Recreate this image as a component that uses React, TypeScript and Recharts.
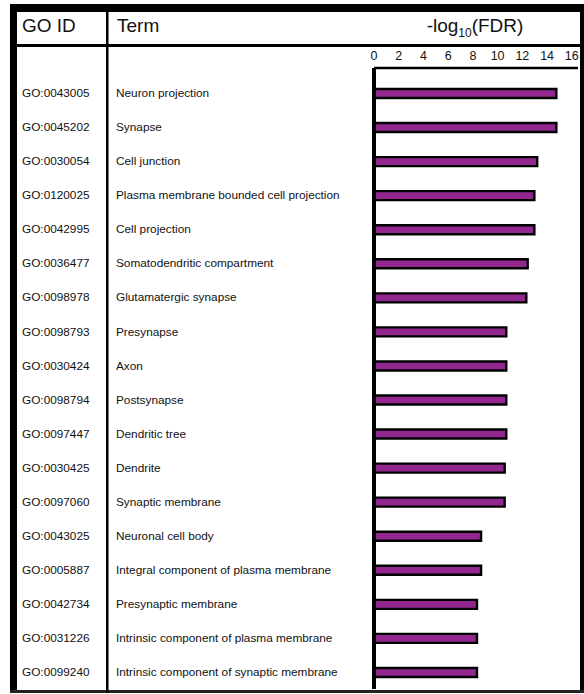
import React from 'react';
import { BarChart, Bar, XAxis, YAxis } from 'recharts';

const goIds = [
  'GO:0043005', 'GO:0045202', 'GO:0030054', 'GO:0120025', 'GO:0042995', 'GO:0036477',
  'GO:0098978', 'GO:0098793', 'GO:0030424', 'GO:0098794', 'GO:0097447', 'GO:0030425',
  'GO:0097060', 'GO:0043025', 'GO:0005887', 'GO:0042734', 'GO:0031226', 'GO:0099240',
];

const terms = [
  'Neuron projection', 'Synapse', 'Cell junction', 'Plasma membrane bounded cell projection',
  'Cell projection', 'Somatodendritic compartment', 'Glutamatergic synapse', 'Presynapse',
  'Axon', 'Postsynapse', 'Dendritic tree', 'Dendrite', 'Synaptic membrane',
  'Neuronal cell body', 'Integral component of plasma membrane', 'Presynaptic membrane',
  'Intrinsic component of plasma membrane', 'Intrinsic component of synaptic membrane',
];

// -log10(FDR)
const log10Fdr = [
  14.75, 14.75, 13.2, 12.97, 12.97, 12.43, 12.32, 10.7, 10.7,
  10.7, 10.7, 10.57, 10.57, 8.66, 8.66, 8.33, 8.33, 8.33,
];

const xTicks = [0, 2, 4, 6, 8, 10, 12, 14, 16];

const rows = goIds.map((id, i) => ({ id, term: terms[i], value: log10Fdr[i] }));
const termById: Record<string, string> = {};
rows.forEach((r) => (termById[r.id] = r.term));

const FONT = '"Liberation Sans", Arial, sans-serif';

function RowLabel(props: any) {
  const { y, payload } = props;
  return (
    <g>
      <text x={22} y={y} dy="0.35em" fontSize={11.8} fill="#111" fontFamily={FONT}>
        {payload.value}
      </text>
      <text x={116} y={y} dy="0.35em" fontSize={11.8} fill="#111" fontFamily={FONT}>
        {termById[payload.value]}
      </text>
    </g>
  );
}

export default function App() {
  return (
    <div style={{ position: 'absolute', left: 0, top: 0, width: 584, height: 694, background: '#fff' }}>
      <BarChart
        width={584}
        height={694}
        data={rows}
        layout="vertical"
        margin={{ top: 48, right: 6, bottom: 5, left: 0 }}
      >
        <XAxis
          type="number"
          orientation="top"
          domain={[0, 16.5]}
          ticks={xTicks}
          height={20}
          tickLine={false}
          tickMargin={2}
          axisLine={{ stroke: '#000', strokeWidth: 2.5 }}
          tick={{ fontSize: 12.5, fill: '#111', fontFamily: FONT }}
        />
        <YAxis
          type="category"
          dataKey="id"
          width={374}
          interval={0}
          padding={{ top: 8, bottom: 0 }}
          tickLine={false}
          axisLine={{ stroke: '#000', strokeWidth: 4 }}
          tick={<RowLabel />}
        />
        <Bar
          dataKey="value"
          barSize={9}
          fill="#92288E"
          stroke="#000"
          strokeWidth={2.4}
          isAnimationActive={false}
        />
      </BarChart>
      <svg
        width={584}
        height={694}
        style={{ position: 'absolute', left: 0, top: 0, pointerEvents: 'none' }}
      >
        <rect x={10} y={4} width={7} height={689} fill="#000" />
        <rect x={10} y={4} width={574} height={8} fill="#000" />
        <rect x={580} y={4} width={4} height={689} fill="#000" />
        <rect x={10} y={690} width={574} height={3} fill="#222" />
        <rect x={10} y={44} width={574} height={3} fill="#000" />
        <rect x={106} y={4} width={2.5} height={689} fill="#000" />
        <text x={22} y={32} fontSize={19} fill="#111" fontFamily={FONT}>GO ID</text>
        <text x={117} y={32} fontSize={19} fill="#111" fontFamily={FONT}>Term</text>
        <text x={475} y={32} fontSize={19} fill="#111" fontFamily={FONT} textAnchor="middle">
          <tspan>-log</tspan>
          <tspan fontSize={12} dy={5}>10</tspan>
          <tspan dy={-5}>(FDR)</tspan>
        </text>
      </svg>
    </div>
  );
}
